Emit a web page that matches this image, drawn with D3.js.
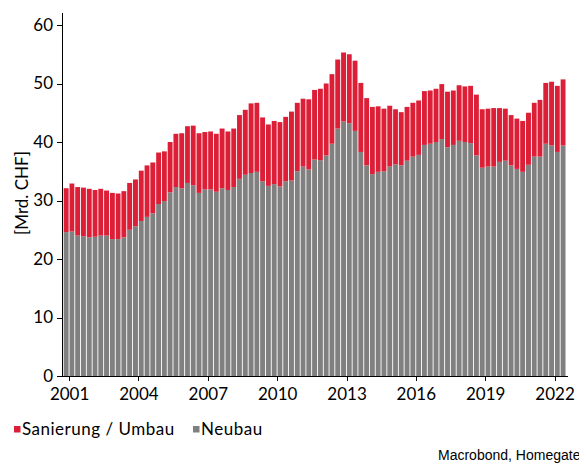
<!DOCTYPE html>
<html lang="de">
<head>
    <meta charset="UTF-8">
    <title>Bauinvestitionen</title>
    <script src="https://d3js.org/d3.v7.min.js"></script>
    <style>
      body { margin: 0; background: #fff; font-family: Lato, "Open Sans", sans-serif; }
      .axis path, .axis line { stroke: #000; shape-rendering: crispEdges; }
      .axis text { font-family: Lato, sans-serif; font-size: 17px; fill: #000; }
      .legend text { font-family: Lato, sans-serif; font-size: 17px; letter-spacing: 0.5px; fill: #000; }
      .source { font-family: "Liberation Sans", Arial, sans-serif; font-size: 14px; fill: #000; }
    </style>
</head>
<body>
<svg width="579" height="463"></svg>
<script>
// quarterly data, first bar = Q4 2000
const firstQuarter = "2000-10-01";

const neubau = [
  24.6, 24.7, 24.0, 23.9, 23.7, 23.8, 24.0, 24.0, 23.4, 23.4,
  23.7, 25.0, 25.6, 26.5, 27.2, 27.8, 29.4, 29.9, 31.4, 32.3,
  32.1, 33.0, 32.6, 31.3, 31.9, 31.9, 31.5, 32.1, 31.8, 32.3,
  33.7, 34.4, 34.7, 34.9, 33.3, 32.5, 32.8, 32.4, 33.3, 33.4,
  35.0, 35.8, 35.3, 37.0, 36.9, 37.7, 39.7, 42.3, 43.5, 43.2,
  41.9, 38.3, 36.0, 34.5, 34.9, 35.0, 35.8, 36.2, 36.0, 36.8,
  37.5, 37.8, 39.5, 39.7, 40.0, 40.5, 39.1, 39.5, 40.2, 40.0,
  39.8, 37.7, 35.6, 35.8, 35.8, 36.6, 36.8, 36.0, 35.4, 34.9,
  36.1, 37.5, 37.5, 39.7, 39.4, 38.3, 39.4
];

const sanierung = [
   7.5,  8.2,  8.3,  8.3,  8.3,  8.0,  8.0,  7.7,  7.9,  7.8,
   7.9,  8.0,  8.0,  8.6,  8.8,  8.7,  8.8,  8.5,  8.6,  9.1,
   9.4,  9.7, 10.2, 10.2,  9.8,  9.9,  9.9, 10.2, 10.0, 10.0,
  10.9, 11.1, 11.9, 11.8, 10.9, 10.5, 10.8, 11.0, 11.0, 11.8,
  11.7, 11.6, 12.0, 11.9, 12.2, 12.3, 11.9, 11.8, 11.8, 11.8,
  12.0, 11.8, 11.5, 11.5, 11.2, 10.7, 10.4,  9.4,  9.1,  9.2,
   9.2,  9.3,  9.2,  9.1,  9.1,  9.4,  9.5,  9.3,  9.5,  9.5,
   9.8, 10.4, 10.0,  9.9, 10.0,  9.2,  8.9,  8.6,  8.6,  8.7,
   8.9,  9.2,  9.7, 10.4, 10.9, 11.3, 11.3
];

const yTicks = [0, 10, 20, 30, 40, 50, 60];
const seriesNames = ["Sanierung / Umbau", "Neubau"];
const colors = { "Neubau": "#808080", "Sanierung / Umbau": "#dc1f36" };

const start = d3.timeParse("%Y-%m-%d")(firstQuarter);
const end = d3.timeMonth.offset(start, 3 * neubau.length);
const quarters = d3.timeMonth.every(3).range(start, end);
const rows = quarters.map((d, i) => ({ date: d, "Neubau": neubau[i], "Sanierung / Umbau": sanierung[i] }));

const svg = d3.select("svg");
const plotLeft = 62, plotRight = 566, plotTop = 25, plotBottom = 376;

const x = d3.scaleTime()
  .domain([start, end])
  .range([63.3, plotRight]);

const y = d3.scaleLinear()
  .domain([0, 60])
  .range([plotBottom, plotTop]);

const stack = d3.stack().keys(["Neubau", "Sanierung / Umbau"]);
const layers = stack(rows);

svg.append("g")
  .selectAll("g")
  .data(layers)
  .join("g")
  .attr("fill", d => colors[d.key])
  .selectAll("rect")
  .data(d => d)
  .join("rect")
  .attr("x", d => x(d.data.date) + 0.4)
  .attr("width", d => x(d3.timeMonth.offset(d.data.date, 3)) - x(d.data.date) - 0.9)
  .attr("y", d => y(d[1]))
  .attr("height", d => y(d[0]) - y(d[1]));

// y axis
const yAxis = svg.append("g")
  .attr("class", "axis")
  .attr("transform", `translate(${plotLeft},0)`)
  .call(d3.axisLeft(y).tickValues(yTicks).tickSize(5).tickPadding(4));
yAxis.select(".domain").attr("d", `M0,13V${plotBottom}`);

// x axis
const xAxis = svg.append("g")
  .attr("class", "axis")
  .attr("transform", `translate(0,${plotBottom})`)
  .call(d3.axisBottom(x).ticks(d3.timeYear.every(3)).tickFormat(d3.timeFormat("%Y")).tickSize(5).tickPadding(5));
xAxis.select(".domain").attr("d", `M${plotLeft},0H${plotRight + 2}`);
xAxis.selectAll("text").attr("dy", "0.85em");

svg.append("text")
  .attr("transform", "translate(28,193) rotate(-90)")
  .attr("text-anchor", "middle")
  .style("font-family", "Lato, sans-serif")
  .style("font-size", "17px")
  .text("[Mrd. CHF]");

// legend
const legend = svg.append("g").attr("class", "legend");
const legendX = [14, 193];
seriesNames.forEach((name, i) => {
  legend.append("rect")
    .attr("x", legendX[i]).attr("y", 426)
    .attr("width", 6.5).attr("height", 6.5)
    .attr("fill", colors[name]);
  legend.append("text")
    .attr("x", legendX[i] + 8).attr("y", 435)
    .text(name);
});

svg.append("text")
  .attr("class", "source")
  .attr("x", 438).attr("y", 460)
  .text("Macrobond, Homegate");
</script>
</body>
</html>
